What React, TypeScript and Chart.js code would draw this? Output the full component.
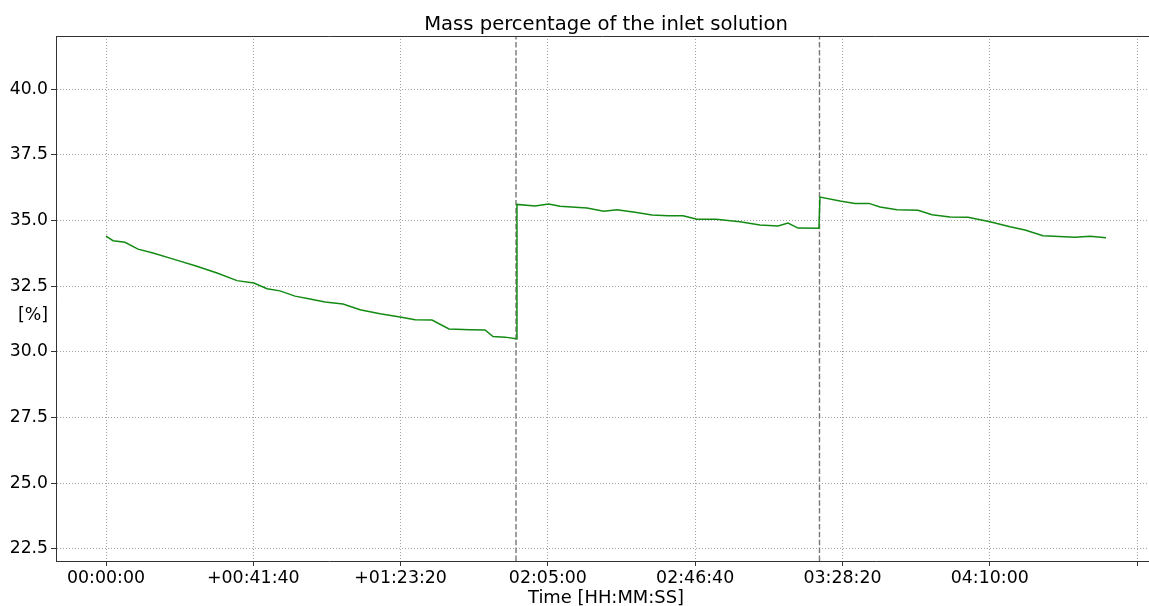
import React, { useEffect, useRef } from "react";
import { Chart, registerables } from "chart.js";

Chart.register(...registerables);

// Elapsed time in seconds since the start of the run
const timeSec = [
  0, 119, 322, 543, 798, 1171, 1528, 1884, 2223, 2510, 2733, 2953, 3208, 3462,
  3717, 4023, 4311, 4651, 4990, 5245, 5533, 5822, 6178, 6433, 6569, 6772, 6959,
  6975, 7282, 7514, 7706, 8164, 8448, 8673, 8979, 9267, 9539, 9793, 10031, 10353,
  10760, 11100, 11406, 11576, 11745, 12101,
  12118, 12458, 12713, 12950, 13137, 13426, 13782, 14020, 14325, 14631, 15004,
  15344, 15598, 15904, 16447, 16702, 16973,
];

// Mass percentage of the inlet solution [%]
const massPct = [
  34.4, 34.23, 34.17, 33.91, 33.76, 33.51, 33.27, 33.0, 32.71, 32.62, 32.4, 32.32,
  32.12, 32.01, 31.9, 31.82, 31.6, 31.45, 31.33, 31.22, 31.21, 30.87, 30.84, 30.83,
  30.58, 30.56, 30.5,
  35.61, 35.55, 35.63, 35.54, 35.47, 35.35, 35.41, 35.31, 35.21, 35.18, 35.18,
  35.05, 35.05, 34.95, 34.83, 34.79, 34.9, 34.71, 34.7,
  35.89, 35.74, 35.65, 35.65, 35.51, 35.41, 35.39, 35.22, 35.13, 35.12, 34.95,
  34.76, 34.64, 34.42, 34.36, 34.4, 34.34,
];

// Moments when the inlet solution was replaced
const swapTimes = [6959, 12110];

const xTickValues = [0, 2500, 5000, 7500, 10000, 12500, 15000, 17500];
const xTickLabels = [
  "00:00:00",
  "+00:41:40",
  "+01:23:20",
  "02:05:00",
  "02:46:40",
  "03:28:20",
  "04:10:00",
  "",
];
const yTickValues = [22.5, 25.0, 27.5, 30.0, 32.5, 35.0, 37.5, 40.0];

const X_MIN = -849;
const X_MAX = 17703;
const Y_MIN = 22.04;
const Y_MAX = 42.02;

const TITLE = "Mass percentage of the inlet solution";
const X_TITLE = "Time [HH:MM:SS]";
const Y_TITLE = "[%]";

const FONT = '"DejaVu Sans", "Liberation Sans", sans-serif';

const textPlugin = {
  id: "axesText",
  afterDraw(chart: any) {
    const { ctx, chartArea } = chart;
    ctx.save();
    // top spine
    ctx.strokeStyle = "#333";
    ctx.lineWidth = 1;
    ctx.beginPath();
    ctx.moveTo(chartArea.left, chartArea.top + 0.5);
    ctx.lineTo(chartArea.right, chartArea.top + 0.5);
    ctx.stroke();

    ctx.fillStyle = "#000";
    ctx.textAlign = "center";
    ctx.textBaseline = "middle";
    ctx.font = `19.6px ${FONT}`;
    ctx.fillText(TITLE, 606, 25);
    ctx.font = `17.9px ${FONT}`;
    ctx.fillText(X_TITLE, 606, 598);
    ctx.font = `17.4px ${FONT}`;
    ctx.fillText(Y_TITLE, 33, 315);
    ctx.restore();
  },
};

export default function App() {
  const canvasRef = useRef<HTMLCanvasElement | null>(null);

  useEffect(() => {
    const canvas = canvasRef.current;
    if (!canvas) return;

    const series = timeSec.map((t, i) => ({ x: t, y: massPct[i] }));
    const swapSets = swapTimes.map((t) => ({
      data: [
        { x: t, y: Y_MIN },
        { x: t, y: Y_MAX },
      ],
      borderColor: "#777777",
      borderWidth: 1.4,
      borderDash: [5.5, 2.4],
      pointRadius: 0,
      tension: 0,
    }));

    const chart = new Chart(canvas, {
      type: "line",
      data: {
        datasets: [
          {
            data: series,
            borderColor: "#138a13",
            borderWidth: 1.5,
            pointRadius: 0,
            tension: 0,
          },
          ...swapSets,
        ],
      },
      options: {
        responsive: false,
        animation: false,
        events: [],
        layout: { padding: { top: 36, left: 0, right: 0, bottom: 0 } },
        plugins: {
          legend: { display: false },
          tooltip: { enabled: false },
          title: { display: false },
        },
        scales: {
          x: {
            type: "linear",
            min: X_MIN,
            max: X_MAX,
            afterBuildTicks: (scale: any) => {
              scale.ticks = xTickValues.map((v) => ({ value: v }));
            },
            afterFit: (scale: any) => {
              scale.height = 45;
              scale.paddingLeft = 0;
              scale.paddingRight = 0;
              scale.paddingTop = 0;
              scale.paddingBottom = 0;
            },
            ticks: {
              autoSkip: false,
              maxRotation: 0,
              padding: 2,
              color: "#000",
              font: { family: FONT, size: 17.4 },
              callback: (_v: any, i: number) => xTickLabels[i],
            },
            grid: {
              color: "#8c8c8c",
              lineWidth: 0.8,
              tickLength: 5,
              tickColor: "#333",
              tickWidth: 1,
            },
            border: { color: "#333", width: 1, dash: [1, 2] },
          },
          y: {
            type: "linear",
            min: Y_MIN,
            max: Y_MAX,
            afterBuildTicks: (scale: any) => {
              scale.ticks = yTickValues.map((v) => ({ value: v }));
            },
            afterFit: (scale: any) => {
              scale.width = 56;
              scale.paddingLeft = 0;
              scale.paddingRight = 0;
              scale.paddingTop = 0;
              scale.paddingBottom = 0;
            },
            ticks: {
              padding: 3,
              color: "#000",
              font: { family: FONT, size: 17.2 },
              callback: (v: any) => Number(v).toFixed(1),
            },
            grid: {
              color: "#8c8c8c",
              lineWidth: 0.8,
              tickLength: 5,
              tickColor: "#333",
              tickWidth: 1,
            },
            border: { color: "#333", width: 1, dash: [1, 2] },
          },
        },
      },
      plugins: [textPlugin],
    } as any);

    return () => chart.destroy();
  }, []);

  return (
    <div
      style={{
        position: "fixed",
        left: 0,
        top: 0,
        width: 1149,
        height: 606,
        background: "#fff",
      }}
    >
      <canvas ref={canvasRef} width={1149} height={606} />
    </div>
  );
}
